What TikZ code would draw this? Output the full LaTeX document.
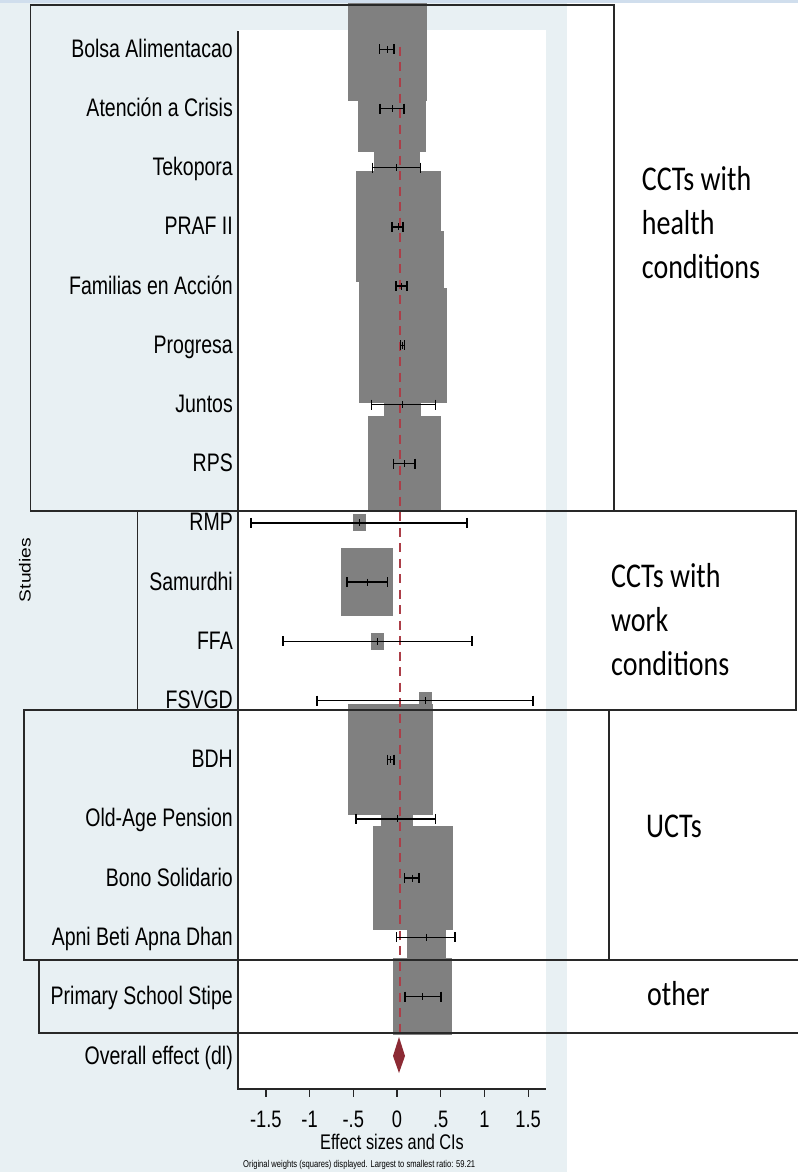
\documentclass[tikz,border=0pt]{standalone}
\usepackage{fontspec}
\setmainfont{Liberation Sans}
\newfontfamily\boxfont{Carlito}
\usepackage{graphicx}

\definecolor{regionbg}{RGB}{232,240,243}
\definecolor{topband}{RGB}{208,222,237}
\definecolor{wtgray}{RGB}{128,128,128}
\definecolor{ovline}{RGB}{172,62,72}
\definecolor{ovdiam}{RGB}{140,42,52}
\definecolor{boxline}{RGB}{40,40,40}

% text of the plot comes out taller than wide
\newcommand{\tallA}[1]{\scalebox{1}[1.3]{#1}}

% label / lower CI / estimate / upper CI / half side of the weight square (px)
\newcommand{\studydata}{%
  Bolsa Alimentacao/-0.198/-0.114/-0.034/39.5,
  Atención a Crisis/-0.195/-0.057/0.080/33.7,
  Tekopora/-0.278/-0.002/0.271/23,
  PRAF II/-0.057/0.017/0.069/42.7,
  Familias en Acción/-0.011/0.051/0.114/42.7,
  Progresa/0.040/0.063/0.086/44,
  Juntos/-0.294/0.063/0.443/18.3,
  RPS/-0.042/0.082/0.206/36.5,
  RMP/-1.670/-0.429/0.801/6.5,
  Samurdhi/-0.572/-0.343/-0.109/26,
  FFA/-1.304/-0.223/0.858/6.5,
  FSVGD/-0.915/0.324/1.556/6.7,
  BDH/-0.109/-0.072/-0.034/42.5,
  Old-Age Pension/-0.469/0.0/0.443/15.6,
  Bono Solidario/0.087/0.183/0.252/40,
  Apni Beti Apna Dhan/-0.007/0.341/0.664/19.6,
  Primary School Stipe/0.092/0.292/0.503/29.5}

\tikzset{
  study/.style={anchor=base east, inner sep=0pt, font=\fontsize{19.5}{22}\selectfont},
  ticklab/.style={anchor=base, inner sep=0pt, font=\fontsize{18.3}{20}\selectfont},
  grouplab/.style={anchor=base west, inner sep=0pt, font=\boxfont\fontsize{28}{35.5}\selectfont},
  groupbox/.style={draw=boxline, line width=1.6pt},
  cibar/.style={black, line width=1.4pt},
}

\begin{document}
\begin{tikzpicture}[x=1pt, y=-1pt]

\useasboundingbox (0,0) rectangle (798,1172);

% graph region and plot region
\fill[regionbg] (0,0) rectangle (567,1172);
\fill[topband] (0,0) rectangle (798,3.5);
\fill[white] (238,30.5) rectangle (546,1089);

% weight squares first, so that no square hides a CI
\foreach \lab/\lo/\est/\hi/\hw [count=\i from 0] in \studydata {
  \pgfmathsetmacro{\yy}{49.3+59.2*\i}
  \pgfmathsetmacro{\xx}{397+87.4*\est}
  \fill[wtgray] ({\xx-\hw},{max(\yy-1.3*\hw,3)}) rectangle ({\xx+\hw},{\yy+1.3*\hw});
}

% overall effect line
\draw[ovline, line width=1.4pt, dash pattern=on 9pt off 6.5pt] (400,47) -- (400,1036);

% confidence intervals and study labels
\foreach \lab/\lo/\est/\hi/\hw [count=\i from 0] in \studydata {
  \pgfmathsetmacro{\yy}{49.3+59.2*\i}
  \pgfmathsetmacro{\xl}{397+87.4*\lo}
  \pgfmathsetmacro{\xe}{397+87.4*\est}
  \pgfmathsetmacro{\xh}{397+87.4*\hi}
  \draw[cibar] (\xl,\yy) -- (\xh,\yy);
  \draw[cibar] (\xl,{\yy-5}) -- (\xl,{\yy+5});
  \draw[cibar] (\xh,{\yy-5}) -- (\xh,{\yy+5});
  \draw[cibar, line width=1pt] (\xe,{\yy-3.5}) -- (\xe,{\yy+3.5});
  \node[study] (s\i) at (233,{\yy+8}) {\tallA{\lab}};
}

% overall effect
\fill[ovdiam] (393,1056) -- (399,1037) -- (405,1056) -- (399,1073) -- cycle;
\node[study] (overall) at (233,1064) {\tallA{Overall effect (dl)}};

% axes
\draw[black!85, line width=1.2pt] (238,31) -- (238,1089) -- (546,1089);
\foreach \v/\txt [count=\k] in {-1.5/-1.5,-1/-1,-0.5/-.5,0/0,0.5/.5,1/1,1.5/1.5}{
  \pgfmathsetmacro{\xt}{397+87.4*\v}
  \draw[black!85, line width=1.2pt] (\xt,1089) -- (\xt,1097);
  \node[ticklab] (tick\k) at (\xt,1127) {\tallA{\txt}};
}
\node[anchor=base, inner sep=0pt, font=\fontsize{16.3}{18}\selectfont] (xtitle) at (392,1149)
  {\tallA{Effect sizes and CIs}};
\node[anchor=base west, inner sep=0pt, font=\fontsize{7.6}{8}\selectfont] (note) at (243,1167)
  {\tallA{Original weights (squares) displayed. Largest to smallest ratio: 59.21}};
\node[rotate=90, inner sep=0pt, font=\fontsize{16}{18}\selectfont] (ytitle) at (25,570)
  {\scalebox{1.2}[1]{Studies}};

% group boxes on top
\draw[groupbox] (30.5,5) rectangle (614,511);
\draw[groupbox] (137.5,511) rectangle (796,710);
\draw[groupbox] (24,710) rectangle (609,960);
\draw[groupbox] (798,960) -- (39,960) -- (39,1033) -- (798,1033);

% group names
\node[grouplab] (health) at (641.7,190)
  {\scalebox{1}[1.24]{\begin{tabular}[t]{@{}l@{}}CCTs with\\health\\conditions\end{tabular}}};
\node[grouplab] (work) at (611,587)
  {\scalebox{1}[1.24]{\begin{tabular}[t]{@{}l@{}}CCTs with\\work\\conditions\end{tabular}}};
\node[grouplab] (uct) at (646,837) {\scalebox{1}[1.24]{UCTs}};
\node[grouplab] (other) at (647,1005) {\scalebox{1}[1.24]{other}};

\end{tikzpicture}
\end{document}
